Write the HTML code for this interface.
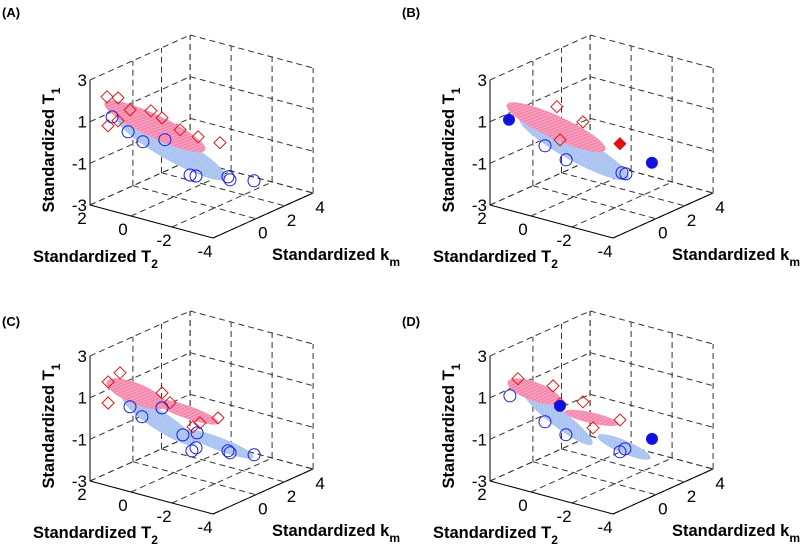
<!DOCTYPE html>
<html><head><meta charset="utf-8"><style>
html,body{margin:0;padding:0;background:#fff;}
svg{display:block;font-family:"Liberation Sans",sans-serif;}
.tick{font-size:17px;fill:#000;}
.title{font-size:16.5px;font-weight:bold;fill:#000;}
.plab{font-size:13px;font-weight:bold;fill:#000;}
</style></head><body>
<svg id="chart" width="800" height="552" viewBox="0 0 800 552">
<defs>
<pattern id="hatch" width="4" height="4" patternUnits="userSpaceOnUse"><rect width="4" height="4" fill="#f79dbd"/><path d="M0 4L4 0" stroke="#ef6f98" stroke-width="0.7"/></pattern>
<pattern id="bhatch" width="4" height="4" patternUnits="userSpaceOnUse"><rect width="4" height="4" fill="#b3cbf4"/><path d="M0 0L4 4" stroke="#96b4ec" stroke-width="0.6"/></pattern>
</defs>
</svg>
<script>
// Axis ticks
const t2Ticks = [2, 0, -2, -4];
const kmTicks = [0, 2, 4];
const t1Ticks = [3, 1, -1, -3];
const panelLabels = ["(A)", "(B)", "(C)", "(D)"];
// Ellipses: [t2a, kma, t1a, t2b, kmb, t1b, halfWidthPx]
const pinkA = [[3.36,0,0.62,-1.51,0,-0.35,11]];
const blueA = [[2.73,0,0.07,-2.49,0,-1.44,12]];
const pinkB = [[3.26,0,0.55,-1.51,0,-0.35,11]];
const blueB = [[2.63,0,0.09,-2.64,0,-1.40,12]];
const pinkC = [[3.26,0,0.5,0.43,0,0.1,10],[0.92,0,0.21,-2.15,0,-0.04,6]];
const blueC = [[2.48,0,-0.01,-1.03,0,-1.34,9],[-0.54,0,-0.85,-3.86,0,-1.22,6]];
const pinkD = [[3.21,0,0.51,0.68,0,0.27,9],[0.43,0,-0.19,-2.15,0,-0.09,5]];
const blueD = [[2.39,0,0.21,-0.88,0,-1.38,8],[-1.18,0,-0.92,-3.71,0,-1.31,6]];
// Markers: [t2, km, t1]
const redA = [[1.87,-2,1.92],[1.33,-2,2.01],[1.82,-2,0.54],[1.33,-2,0.91],[1.12,0,0.83],[0.58,0,0.63],[-1.18,0,0.19],[-0.85,2,-0.8],[0.74,-2,1.59],[-0.3,0,0.29]];
const blueOpenA = [[1.62,-2,1.02],[0.84,-2,0.51],[1.51,0,-0.76],[-0.79,0,-1.75],[-1.08,0,-1.72],[-1.24,2,-2.34],[-1.34,2,-2.45],[-2.51,2,-2.19],[0.44,0,-0.38]];
const redB = [[0.83,0,1.1],[-0.44,0,0.71],[0.68,0,-0.45]];
const redFilledB = [[-0.85,2,-0.85]];
const blueOpenB = [[1.41,0,-0.93],[0.38,0,-1.33],[-0.95,2,-2.22],[-1.14,2,-2.22]];
const blueFilledB = [[1.77,-2,0.84],[-2.41,2,-1.35]];
const redC = [[2.63,0,1.1],[3.21,0,0.51],[3.21,0,-0.5],[0.58,0,0.68],[0.19,0,0.31],[-2.15,0,0.2],[-0.93,0,-0.55],[-1.27,0,-0.27]];
const blueOpenC = [[2.14,0,-0.4],[1.56,0,-0.73],[0.58,0,-0.04],[-1.13,0,-0.79],[-0.88,0,-1.72],[-1.08,0,-1.52],[-2.64,0,-1.25],[-2.74,0,-1.32],[-3.91,0,-1.11],[-0.44,0,-1.07]];
const redD = [[1.02,0,0.9],[0.68,0,0.13],[-0.44,0,0.52],[-0.93,0,-0.6],[-2.25,0,0.13],[2.73,0,0.79]];
const blueOpenD = [[3.12,0,-0.13],[1.41,0,-0.93],[0.39,0,-1.28],[-2.25,0,-1.4],[-2.49,0,-1.2]];
const blueFilledD = [[0.68,0,0.03],[-3.81,0,-0.37]];

const NS = "http://www.w3.org/2000/svg";
const svg = document.getElementById("chart");
function mk(tag, attrs, parent){const e=document.createElementNS(NS,tag);for(const k in attrs)e.setAttribute(k,attrs[k]);(parent||svg).appendChild(e);return e;}

function proj(ox, oy){
  return function(t2, km, t1){
    const u = 2 - t2, v = km + 3, w = t1 + 3;
    return [ox + 90 + u*20.5 + v*14.3, oy + 205 + u*5.5 - v*6.43 - w*20.83];
  };
}

const panels = [
  {ox:0, oy:0, pink:pinkA, blue:blueA, red:redA, redF:[], blueO:blueOpenA, blueF:[]},
  {ox:400, oy:0, pink:pinkB, blue:blueB, red:redB, redF:redFilledB, blueO:blueOpenB, blueF:blueFilledB},
  {ox:0, oy:276, pink:pinkC, blue:blueC, red:redC, redF:[], blueO:blueOpenC, blueF:[]},
  {ox:400, oy:276, pink:pinkD, blue:blueD, red:redD, redF:[], blueO:blueOpenD, blueF:blueFilledD}
];
const names = ["a","b","c","d"];

panels.forEach(function(p, i){
  const P = proj(p.ox, p.oy);
  const g = mk("g", {});
  
  
  const dash = {stroke:"#333", "stroke-width":1, "stroke-dasharray":"6,4", fill:"none"};
  function line(a, b, attrs, name){
    const l = mk("line", Object.assign({x1:a[0].toFixed(1), y1:a[1].toFixed(1), x2:b[0].toFixed(1), y2:b[1].toFixed(1)}, attrs), g);
    
    
  }
  kmTicks.forEach(function(k){ line(P(2,k,-3), P(2,k,3), dash, 'grid-left-wall-v'); });
  t1Ticks.forEach(function(t){ line(P(2,-3,t), P(2,4,t), dash, 'grid-left-wall-h'); });
  t2Ticks.forEach(function(t){ line(P(t,4,-3), P(t,4,3), dash, 'grid-back-wall-v'); });
  t1Ticks.forEach(function(t){ line(P(2,4,t), P(-4,4,t), dash, 'grid-back-wall-h'); });
  t2Ticks.forEach(function(t){ line(P(t,-3,-3), P(t,4,-3), dash, 'grid-floor-t2'); });
  kmTicks.forEach(function(k){ line(P(2,k,-3), P(-4,k,-3), dash, 'grid-floor-km'); });
  const solid = {stroke:"#000", "stroke-width":1};
  line(P(2,-3,-3), P(-4,-3,-3), solid, 't2-axis');
  line(P(-4,-3,-3), P(-4,4,-3), solid, 'km-axis');
  line(P(2,-3,-3), P(2,-3,3), solid, 't1-axis');
  t1Ticks.forEach(function(t){
    const q = P(2,-3,t);
    const tx = mk("text", {x:(q[0]-3).toFixed(1), y:(q[1]+6).toFixed(1), "text-anchor":"end", class:"tick"}, g);
    tx.textContent = String(t);
    
    
  });
  t2Ticks.forEach(function(t){
    const q = P(t,-3,-3);
    const tx = mk("text", {x:(q[0]-8).toFixed(1), y:(q[1]+19).toFixed(1), "text-anchor":"middle", class:"tick"}, g);
    tx.textContent = String(t);
    
    
  });
  kmTicks.forEach(function(k){
    const q = P(-4,k,-3);
    const tx = mk("text", {x:(q[0]+7).toFixed(1), y:(q[1]+20).toFixed(1), "text-anchor":"middle", class:"tick"}, g);
    tx.textContent = String(k);
    
    
  });
  function ell(list, fill, stroke, name){
    list.forEach(function(e){
      const a = P(e[0],e[1],e[2]), b = P(e[3],e[4],e[5]);
      const cx=(a[0]+b[0])/2, cy=(a[1]+b[1])/2;
      const rx=Math.hypot(b[0]-a[0], b[1]-a[1])/2;
      const ang=Math.atan2(b[1]-a[1], b[0]-a[0])*180/Math.PI;
      const el = mk("ellipse", {cx:cx.toFixed(1), cy:cy.toFixed(1), rx:rx.toFixed(1), ry:e[6], transform:"rotate("+ang.toFixed(1)+" "+cx.toFixed(1)+" "+cy.toFixed(1)+")", fill:fill, stroke:stroke, "stroke-width":0.8}, g);
      
      
    });
  }
  ell(p.blue, "url(#bhatch)", "#a6c1f0", 'blue-ellipsoid');
  ell(p.pink, "url(#hatch)", "#f594b6", 'pink-ellipsoid');
  function diamonds(list, filled, name){
    list.forEach(function(d){
      const q = P(d[0],d[1],d[2]);
      const s = 6;
      const el = mk("polygon", {points:[q[0],q[1]-s,q[0]+s,q[1],q[0],q[1]+s,q[0]-s,q[1]].map(function(v){return v.toFixed(1);}).join(" "), fill:filled?"#e01010":"none", stroke:"#e01818", "stroke-width":1}, g);
      
      
    });
  }
  function circles(list, filled, name){
    list.forEach(function(d){
      const q = P(d[0],d[1],d[2]);
      const el = mk("circle", {cx:q[0].toFixed(1), cy:q[1].toFixed(1), r:filled?5.5:6, fill:filled?"#1010e0":"none", stroke:"#1a1ad8", "stroke-width":1}, g);
      
      
    });
  }
  diamonds(p.red, false, 'red-diamond-marker');
  diamonds(p.redF, true, 'red-filled-diamond');
  circles(p.blueO, false, 'blue-circle-marker');
  circles(p.blueF, true, 'blue-filled-circle');
  const t1t = mk("text", {x:0, y:0, "text-anchor":"middle", class:"title", transform:"translate("+(p.ox+54)+","+(p.oy+150)+") rotate(-90)"}, g);
  t1t.innerHTML = 'Standardized T<tspan dy="6" font-size="12">1</tspan>';
  
  
  const t2t = mk("text", {x:p.ox+33, y:p.oy+262, class:"title"}, g);
  t2t.innerHTML = 'Standardized T<tspan dy="6" font-size="12">2</tspan>';
  
  
  const kmt = mk("text", {x:p.ox+272, y:p.oy+260, class:"title"}, g);
  kmt.innerHTML = 'Standardized k<tspan dy="6" font-size="12">m</tspan>';
  
  
  const pl = mk("text", {x:p.ox+2, y:p.oy+(i>=2?50:17), class:"plab"}, g);
  pl.textContent = panelLabels[i];
  
  
});
</script>
</body></html>
